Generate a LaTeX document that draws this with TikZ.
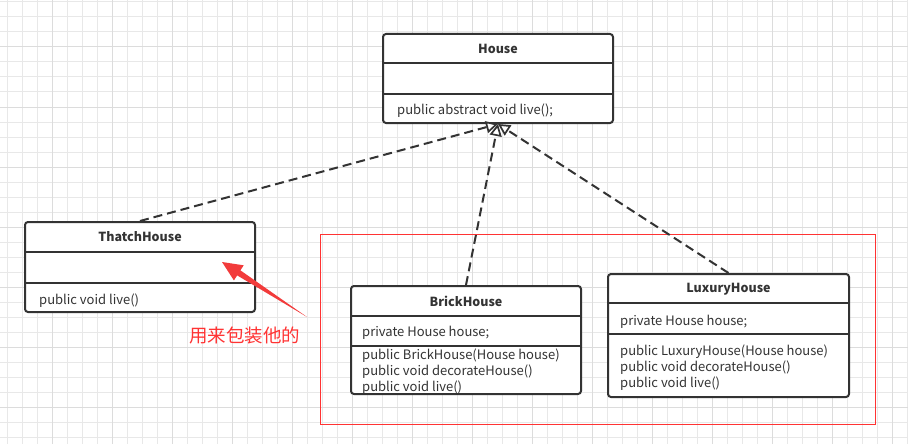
\documentclass[tikz,border=0pt]{standalone}
\usepackage{fontspec}
\setmainfont{Noto Sans CJK SC}
\usetikzlibrary{arrows.meta,calc}
\definecolor{dk}{HTML}{333333}
\definecolor{gridc}{HTML}{E8E8E8}
\definecolor{gridh}{HTML}{DCDCDC}
\definecolor{redc}{HTML}{FF3333}
\definecolor{redarrow}{HTML}{F23B3B}
\begin{document}
\begin{tikzpicture}[x=1pt,y=-1pt,
  cls/.style={draw=dk, line width=2pt, rounded corners=3pt, fill=white, inner sep=0pt},
  sep/.style={draw=dk, line width=2pt},
  ttl/.style={font=\fontsize{12.5}{14}\selectfont\bfseries, text=dk, inner sep=0pt},
  mem/.style={font=\fontsize{13}{15}\selectfont, text=dk, inner sep=0pt, anchor=west, yshift=-1.5pt},
  dep/.style={draw=dk, line width=2pt, dash pattern=on 9pt off 5pt,
    -{Triangle[length=12pt,width=12pt,fill=white,line width=1.7pt]}},
  grp/.style={draw=redc, line width=0.8pt, inner sep=0pt}]
\useasboundingbox (0,0) rectangle (908,444);
\fill[white] (0,0) rectangle (908,444);
% grid
\foreach \x in {7.5,22.5,...,907.5} \draw[gridc, line width=1pt] (\x,0) -- (\x,444);
\foreach \y in {2,17,...,443} \draw[gridc, line width=1pt] (0,\y) -- (908,\y);
\foreach \x in {52.5,112.5,...,907.5} \draw[gridh, line width=1pt] (\x,0) -- (\x,444);
\foreach \y in {47,107,...,443} \draw[gridh, line width=1pt] (0,\y) -- (908,\y);

% red group
\node[grp, minimum width=555pt, minimum height=190pt] (group) at (597.5,329) {};

% House
\node[cls, minimum width=230pt, minimum height=89pt] (house) at (498,78.5) {};
\draw[sep] (house.west |- 0,63) -- (house.east |- 0,63);
\draw[sep] (house.west |- 0,94) -- (house.east |- 0,94);
\node[ttl] (houset) at (498,49) {House};
\node[mem] (housem) at (397,109) {public abstract void live();};

% ThatchHouse
\node[cls, minimum width=230pt, minimum height=90pt] (thatch) at (140,267) {};
\draw[sep] (thatch.west |- 0,252) -- (thatch.east |- 0,252);
\draw[sep] (thatch.west |- 0,283) -- (thatch.east |- 0,283);
\node[ttl] (thatcht) at (140,237) {ThatchHouse};
\node[mem] (thatchm) at (39,299) {public void live()};

% BrickHouse
\node[cls, minimum width=230pt, minimum height=108pt] (brick) at (466,340) {};
\draw[sep] (brick.west |- 0,316) -- (brick.east |- 0,316);
\draw[sep] (brick.west |- 0,346) -- (brick.east |- 0,346);
\node[ttl] (brickt) at (466,301) {BrickHouse};
\node[mem] (bricka) at (362,331) {private House house;};
\node[mem] (brickm1) at (362,354) {public BrickHouse(House house)};
\node[mem] (brickm2) at (362,370) {public void decorateHouse()};
\node[mem] (brickm3) at (362,386) {public void live()};

% LuxuryHouse
\node[cls, minimum width=241pt, minimum height=123pt] (lux) at (728.5,335.5) {};
\draw[sep] (lux.west |- 0,303) -- (lux.east |- 0,303);
\draw[sep] (lux.west |- 0,334) -- (lux.east |- 0,334);
\node[ttl] (luxt) at (728.5,289) {LuxuryHouse};
\node[mem] (luxa) at (620,320) {private House house;};
\node[mem] (luxm1) at (620,350) {public LuxuryHouse(House house)};
\node[mem] (luxm2) at (620,366) {public void decorateHouse()};
\node[mem] (luxm3) at (620,382) {public void live()};

% dependencies
\draw[dep] (thatch.north) -- (house.south);
\draw[dep] (brick.north) -- (house.south);
\draw[dep] (lux.north) -- (house.south);

% red annotation arrow
\coordinate (tip) at (222,262);
\coordinate (tail) at (307,317);
\coordinate (hb) at ($(tip)!20pt!(tail)$);
\fill[redarrow] (tip) -- ($(hb)!9pt!90:(tip)$) -- ($(hb)!3pt!90:(tip)$) -- (tail)
  -- ($(hb)!3pt!-90:(tip)$) -- ($(hb)!9pt!-90:(tip)$) -- cycle;
\node[font=\fontsize{18.5}{20}\selectfont, text=redc, inner sep=0pt, anchor=west] (note) at (189,335) {用来包装他的};
\end{tikzpicture}
\end{document}
